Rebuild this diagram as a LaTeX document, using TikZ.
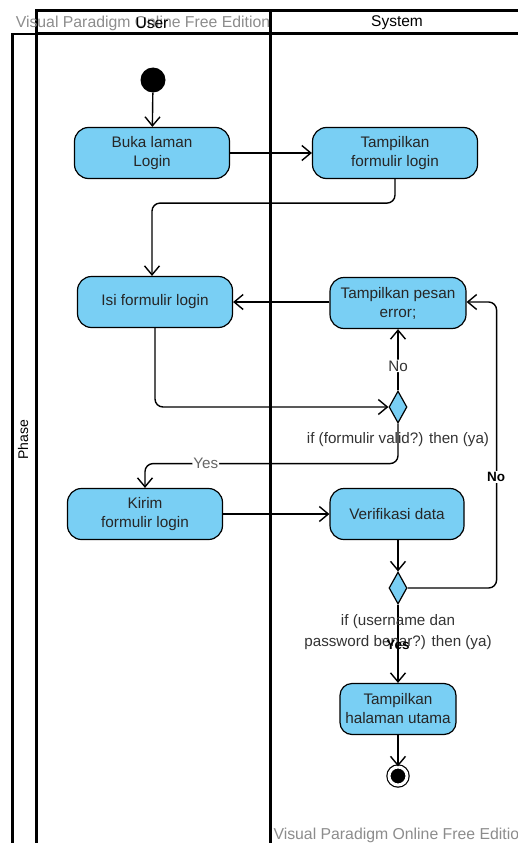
\documentclass[tikz,border=0pt]{standalone}
\usepackage{fontspec}
\setmainfont{Liberation Sans}
\usetikzlibrary{arrows.meta, positioning, shapes.geometric}
\definecolor{actblue}{HTML}{79CFF4}
\definecolor{vpgrey}{HTML}{8C8C8C}
\definecolor{lblgrey}{HTML}{333333}
\tikzset{
  activity/.style={
	rectangle, rounded corners=14pt, % rounded action box
	draw=black, line width=1.2pt, fill=actblue,
	font=\fontsize{15.3}{19}\selectfont, text=black!85, align=center,
	minimum height=51pt, inner sep=2pt, % all boxes are equally tall
  },
  decision/.style={diamond, draw=black, line width=1.2pt, fill=actblue,
	minimum width=18pt, minimum height=32pt, inner sep=0pt},
  flow/.style={
	-{Straight Barb[length=9pt,width=15pt,line width=1.4pt]}, % open arrow head
	line width=1.4pt, rounded corners=8pt, % soft bends
  },
  guard/.style={font=\fontsize{15.2}{21}\selectfont, text=lblgrey, align=center},
  lane/.style={line width=3pt},
}

\begin{document}
\begin{tikzpicture}[x=1pt, y=-1pt]
	  \useasboundingbox (0,0) rectangle (518,843);
	  % swimlanes
	  \draw[lane] (36,843) -- (36,11) -- (518,11);
	  \draw[lane] (36,34) -- (518,34);
	  \draw[lane] (270,11) -- (270,843);
	  \draw[line width=2.5pt] (12.5,843) -- (12.5,34) -- (36,34);
	  \node[font=\fontsize{15.8}{18}\selectfont, text=vpgrey] (wmtop) at (143,23) {Visual Paradigm Online Free Edition};
	  \node[font=\fontsize{15.8}{18}\selectfont, text=vpgrey, anchor=west] (wmbot) at (270,835) {Visual Paradigm Online Free Edition};
	  \node[font=\fontsize{15.5}{18}\selectfont] (user) at (152,23) {User};
	  \node[font=\fontsize{15.5}{18}\selectfont] (system) at (397,23) {System};
	  \node[font=\fontsize{14}{16}\selectfont, rotate=90] (phase) at (23,440) {Phase};
	  % actions
	  \node[circle, fill=black, minimum size=25pt, inner sep=0pt] (start) at (153,80) {};
	  \node[activity, minimum width=155pt] (buka) at (152,153) {Buka laman\\Login};
	  \node[activity, minimum width=165pt] (tform) at (395,153) {Tampilkan\\formulir login};
	  \node[activity, minimum width=155pt] (isi) at (155,302) {Isi formulir login};
	  \node[activity, minimum width=136pt] (err) at (398,303) {Tampilkan pesan\\error;};
	  \node[decision] (valid) at (398,407) {};
	  \node[activity, minimum width=155pt] (kirim) at (145,514) {Kirim\\formulir login};
	  \node[activity, minimum width=134pt] (verif) at (397,514) {Verifikasi data};
	  \node[decision] (benar) at (398,588) {};
	  \node[activity, minimum width=116pt, rounded corners=12pt] (home) at (398,709) {Tampilkan\\halaman utama};
	  \node[circle, fill=black, draw=black, line width=1.2pt, double=white, double distance=3pt,
		minimum size=18pt, inner sep=0pt] (end) at (398,776) {};
	  % flows
	  \draw[flow] (start) -- (buka);
	  \draw[flow] (buka) -- (tform);
	  \draw[flow] (tform.south) -- ([yshift=-24pt]tform.south) -| ([xshift=-3pt]isi.north);
	  \draw[flow] (err.west |- isi) -- (isi);
	  \draw[flow] (isi.south) |- (valid.west);
	  \draw[flow] (valid.north) -- node[pos=0.4, guard, fill=white, inner sep=1pt] {No} (err.south);
	  \draw[flow] (valid.south) -- ([yshift=-40pt]valid.south)
		  -| node[pos=0.38, guard, fill=white, inner sep=1pt, text=black!60] {Yes} (kirim.north);
	  \node[guard] (validtxt) at (398,440) {if (formulir valid?) then (ya)};
	  \draw[flow] (kirim) -- (verif);
	  \draw[flow] (verif.south -| benar.north) -- (benar.north);
	  \draw[flow] (benar.east) -| ([xshift=30pt]err.east |- isi) -- (err.east |- isi);
	  \node[font=\bfseries\fontsize{13.5}{15}\selectfont, fill=white, inner sep=1pt] (notxt) at (496,477) {No};
	  \draw[flow] (benar) -- (home);
	  \node[guard] (benartxt) at (398,632) {if (username dan\\password benar?) then (ya)};
	  \node[font=\bfseries\fontsize{13.5}{15}\selectfont] (yestxt) at (398,645) {Yes};
	  \draw[flow] (home) -- (end);
\end{tikzpicture}
\end{document}
